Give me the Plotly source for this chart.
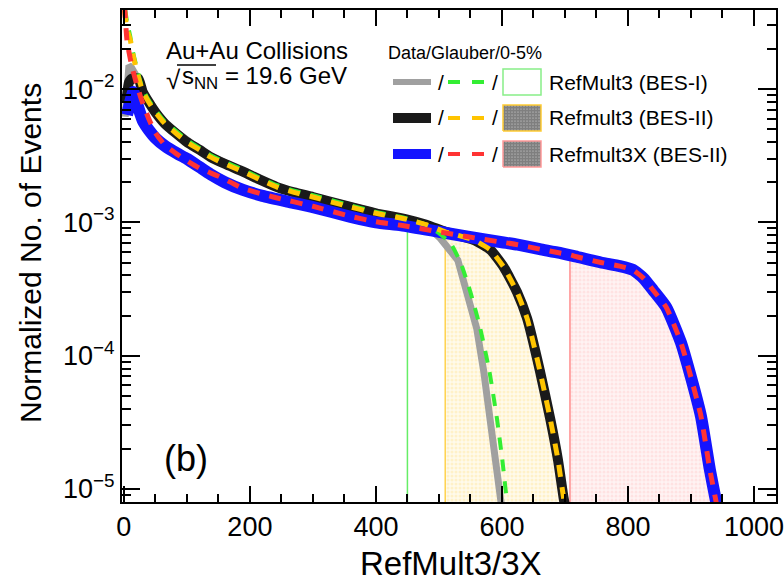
import numpy as np
import plotly.graph_objects as go

# ---------------- data ----------------
# Data: RefMult3 (BES-I)
d1_x = [2, 5, 8, 12, 20, 30, 40, 50, 65, 84, 100, 120, 137, 160, 189, 215, 243, 270, 300, 330,
        350, 380, 400, 430, 450, 480, 502, 515, 530, 544, 560, 571, 582, 592, 598, 602]
d1_y = [6.2e-3, 1.2e-2, 1.5e-2, 1.45e-2, 1.25e-2, 9.6e-3, 8.0e-3, 6.8e-3, 5.5e-3, 4.7e-3, 4.05e-3,
        3.55e-3, 3.15e-3, 2.8e-3, 2.42e-3, 2.12e-3, 1.86e-3, 1.7e-3, 1.56e-3, 1.45e-3, 1.36e-3,
        1.25e-3, 1.18e-3, 1.1e-3, 1.05e-3, 9.5e-4, 7.6e-4, 6.5e-4, 5.2e-4, 3.0e-4, 1.6e-4, 7.7e-5,
        3.3e-5, 1.3e-5, 8e-6, 6e-6]
# Data: Refmult3 (BES-II)
d2_x = [4, 8, 13, 23, 30, 40, 50, 65, 84, 100, 120, 137, 160, 189, 215, 243, 270, 300, 350, 400,
        450, 480, 510, 530, 555, 582, 603, 624, 640, 660, 677, 689, 698, 704]
d2_y = [8.0e-3, 1.12e-2, 1.2e-2, 1.2e-2, 9.5e-3, 7.9e-3, 6.7e-3, 5.5e-3, 4.6e-3, 4.0e-3, 3.5e-3,
        3.1e-3, 2.75e-3, 2.4e-3, 2.1e-3, 1.84e-3, 1.68e-3, 1.55e-3, 1.34e-3, 1.17e-3, 1.05e-3,
        9.6e-4, 8.5e-4, 8.0e-4, 7.4e-4, 6.2e-4, 4.6e-4, 3.0e-4, 1.9e-4, 7.8e-5, 3.3e-5, 1.65e-5,
        8.5e-6, 6e-6]
# Data: Refmult3X (BES-II)
d3_x = [5, 15, 20, 30, 40, 50, 65, 84, 100, 120, 137, 160, 189, 220, 263, 300, 360, 400, 440, 500,
        546, 600, 625, 660, 692, 720, 757, 787, 808, 825, 840, 861, 884, 900, 916, 930, 940, 945]
d3_y = [6.4e-3, 9.5e-3, 8.0e-3, 5.8e-3, 4.9e-3, 4.3e-3, 3.75e-3, 3.3e-3, 3.0e-3, 2.6e-3, 2.3e-3,
        2.0e-3, 1.75e-3, 1.58e-3, 1.42e-3, 1.3e-3, 1.1e-3, 1.0e-3, 9.5e-4, 8.5e-4, 7.8e-4, 7.1e-4,
        6.8e-4, 6.3e-4, 5.9e-4, 5.5e-4, 5.0e-4, 4.7e-4, 4.4e-4, 3.8e-4, 3.1e-4, 2.3e-4, 1.26e-4,
        6.9e-5, 3.5e-5, 1.4e-5, 8e-6, 6e-6]

# Glauber: RefMult3 (BES-I)
g1_x = [2, 5, 10, 15, 23, 30, 40, 50, 65, 84, 100, 120, 137, 160, 189, 215, 243, 270, 300, 350,
        400, 450, 480, 500, 519, 535, 550, 565, 580, 592, 601, 608, 612]
g1_y = [4.0e-2, 3.2e-2, 2.5e-2, 1.85e-2, 1.3e-2, 1.0e-2, 8.2e-3, 7.0e-3, 5.7e-3, 4.8e-3, 4.15e-3,
        3.62e-3, 3.2e-3, 2.85e-3, 2.48e-3, 2.17e-3, 1.9e-3, 1.73e-3, 1.6e-3, 1.38e-3, 1.2e-3,
        1.07e-3, 9.6e-4, 8.3e-4, 6.9e-4, 4.9e-4, 3.0e-4, 1.65e-4, 7.7e-5, 3.4e-5, 1.6e-5, 8e-6, 6e-6]
# Glauber: Refmult3 (BES-II)
g2_x = [1, 5, 10, 15, 23, 30, 40, 50, 65, 84, 100, 120, 137, 160, 189, 215, 243, 270, 300, 350,
        400, 450, 480, 510, 530, 555, 582, 603, 624, 640, 660, 677, 689, 698, 704]
g2_y = [3.9e-2, 2.8e-2, 2.35e-2, 1.75e-2, 1.23e-2, 9.6e-3, 7.9e-3, 6.7e-3, 5.5e-3, 4.6e-3, 4.0e-3,
        3.5e-3, 3.1e-3, 2.75e-3, 2.4e-3, 2.1e-3, 1.84e-3, 1.68e-3, 1.55e-3, 1.34e-3, 1.17e-3,
        1.05e-3, 9.6e-4, 8.5e-4, 8.0e-4, 7.4e-4, 6.2e-4, 4.6e-4, 3.0e-4, 1.9e-4, 7.8e-5, 3.3e-5,
        1.65e-5, 8.5e-6, 6e-6]
# Glauber: Refmult3X (BES-II)
g3_x = [1, 5, 10, 14, 20, 28, 40, 50, 65, 84, 100, 120, 152, 189, 237, 300, 360, 400, 440, 500,
        546, 600, 625, 660, 692, 708, 720, 757, 787, 808, 825, 840, 861, 884, 900, 916, 930, 940, 945]
g3_y = [4.2e-2, 2.3e-2, 1.7e-2, 1.4e-2, 1.1e-2, 8.3e-3, 5.9e-3, 4.7e-3, 3.8e-3, 3.25e-3, 2.9e-3,
        2.55e-3, 2.2e-3, 1.8e-3, 1.55e-3, 1.32e-3, 1.11e-3, 1.01e-3, 9.5e-4, 8.5e-4, 7.8e-4, 7.1e-4,
        6.8e-4, 6.3e-4, 5.9e-4, 5.7e-4, 5.5e-4, 5.0e-4, 4.7e-4, 4.4e-4, 3.8e-4, 3.1e-4, 2.3e-4,
        1.26e-4, 6.9e-5, 3.5e-5, 1.4e-5, 8e-6, 6e-6]

# 0-5% centrality cuts
cut_g1 = 450
cut_g2 = 510
cut_g3 = 708

legend_labels = ["RefMult3 (BES-I)", "Refmult3 (BES-II)", "Refmult3X (BES-II)"]

# ---------------- styling ----------------
FONT = "Liberation Sans, Arial, Helvetica, sans-serif"
FLOOR = 1e-6  # fill baseline below the visible range

C_GRAY = "#a0a0a0"
C_BLACK = "#1a1a1a"
C_BLUE = "#1414ff"
C_GREEN = "#33ee33"
C_YELLOW = "#ffc400"
C_RED = "#ff3333"

fig = go.Figure()


def cut_region(xs, ys, cut):
    xs = np.asarray(xs, float)
    ys = np.asarray(ys, float)
    m = xs >= cut
    px = np.concatenate([[cut], xs[m], [xs[m][-1], cut]])
    py = np.concatenate([[FLOOR], ys[m], [FLOOR, FLOOR]])
    return px, py, ys[m][0]


# filled 0-5% regions
for xs, ys, cut, fg, bg, edge, patterned in [
    (g1_x, g1_y, cut_g1, None, None, "#66ee66", False),
    (g2_x, g2_y, cut_g2, "rgba(255,205,60,0.40)", "rgba(255,240,190,0.30)", "#ffd24d", True),
    (g3_x, g3_y, cut_g3, "rgba(255,130,130,0.30)", "rgba(255,215,215,0.30)", "#ff8c8c", True),
]:
    px, py, ytop = cut_region(xs, ys, cut)
    if patterned:
        fig.add_trace(go.Scatter(
            x=px, y=py, mode="lines", line=dict(width=0),
            fill="toself", fillcolor=bg,
            fillpattern=dict(shape=".", fgcolor=fg, bgcolor=bg, size=4, solidity=0.45),
            hoverinfo="skip"))
    fig.add_trace(go.Scatter(x=[cut, cut], y=[FLOOR, ytop], mode="lines",
                             line=dict(color=edge, width=1.5), hoverinfo="skip"))

SPL = dict(shape="spline", smoothing=0.5)
# data curves
fig.add_trace(go.Scatter(x=d1_x, y=d1_y, mode="lines", line=dict(color=C_GRAY, width=7)))
fig.add_trace(go.Scatter(x=d2_x, y=d2_y, mode="lines", line=dict(color=C_BLACK, width=10, **SPL)))
fig.add_trace(go.Scatter(x=d3_x, y=d3_y, mode="lines", line=dict(color=C_BLUE, width=12, **SPL)))
# Glauber curves
DASH = "12px,10px"
fig.add_trace(go.Scatter(x=g1_x, y=g1_y, mode="lines",
                         line=dict(color=C_GREEN, width=4, dash=DASH, **SPL)))
fig.add_trace(go.Scatter(x=g2_x, y=g2_y, mode="lines",
                         line=dict(color=C_YELLOW, width=5, dash=DASH, **SPL)))
fig.add_trace(go.Scatter(x=g3_x, y=g3_y, mode="lines",
                         line=dict(color=C_RED, width=5, dash=DASH, **SPL)))

# ---------------- legend (drawn by hand) ----------------
def px2x(p):
    return (p - 122) / 654.0


def py2y(p):
    return (502 - p) / 492.0


shapes = []
annotations = []
rows = [82, 118, 154]
line_cols = [C_GRAY, C_BLACK, C_BLUE]
line_w = [6, 10, 10]
dash_cols = [C_GREEN, C_YELLOW, C_RED]
box_edges = ["#88ee88", "#ffcc33", "#ff9999"]

for i, r in enumerate(rows):
    shapes.append(dict(type="line", xref="paper", yref="paper", x0=px2x(393), x1=px2x(431),
                       y0=py2y(r), y1=py2y(r), line=dict(color=line_cols[i], width=line_w[i])))
    for a, b in [(448, 460), (472, 484)]:
        shapes.append(dict(type="line", xref="paper", yref="paper", x0=px2x(a), x1=px2x(b),
                           y0=py2y(r), y1=py2y(r), line=dict(color=dash_cols[i], width=4)))
    for sx in [441, 495]:
        annotations.append(dict(text="/", x=px2x(sx), y=py2y(r), xref="paper", yref="paper",
                                showarrow=False, xanchor="center", yanchor="middle",
                                font=dict(size=21, family=FONT, color="black")))
    annotations.append(dict(text=legend_labels[i], x=px2x(547), y=py2y(r), xref="paper",
                            yref="paper", showarrow=False, xanchor="left", yanchor="middle",
                            font=dict(size=21, family=FONT, color="black")))
    bx0, bx1 = px2x(503), px2x(541)
    by0, by1 = py2y(r + 13), py2y(r - 13)
    if i == 0:
        shapes.append(dict(type="rect", xref="paper", yref="paper", x0=bx0, x1=bx1, y0=by0, y1=by1,
                           line=dict(color=box_edges[i], width=1.5), fillcolor="white"))
    else:
        fig.add_trace(go.Scatter(
            x=[bx0, bx1, bx1, bx0, bx0], y=[by0, by0, by1, by1, by0], xaxis="x2", yaxis="y2",
            mode="lines", line=dict(color=box_edges[i], width=1.5), fill="toself",
            fillcolor="white",
            fillpattern=dict(shape=".", fgcolor="black", bgcolor="white", size=3, solidity=0.85),
            hoverinfo="skip"))

annotations.append(dict(text="Data/Glauber/0-5%", x=px2x(386), y=py2y(53), xref="paper",
                        yref="paper", showarrow=False, xanchor="left", yanchor="middle",
                        font=dict(size=18, family=FONT, color="black")))
annotations.append(dict(text="Au+Au Collisions", x=px2x(164), y=py2y(50), xref="paper",
                        yref="paper", showarrow=False, xanchor="left", yanchor="middle",
                        font=dict(size=24, family=FONT, color="black")))
annotations.append(dict(text="√", x=px2x(164), y=py2y(80), xref="paper", yref="paper",
                        showarrow=False, xanchor="left", yanchor="middle",
                        font=dict(size=26, family=FONT, color="black")))
annotations.append(dict(text="s<sub>NN</sub> = 19.6 GeV", x=px2x(180), y=py2y(78), xref="paper",
                        yref="paper", showarrow=False, xanchor="left", yanchor="middle",
                        font=dict(size=24, family=FONT, color="black")))
shapes.append(dict(type="line", xref="paper", yref="paper", x0=px2x(177), x1=px2x(216),
                   y0=py2y(65), y1=py2y(65), line=dict(color="black", width=1.5)))
annotations.append(dict(text="(b)", x=px2x(162), y=py2y(458), xref="paper", yref="paper",
                        showarrow=False, xanchor="left", yanchor="middle",
                        font=dict(size=36, family=FONT, color="black")))
# axis titles
annotations.append(dict(text="RefMult3/3X", x=px2x(451), y=py2y(563), xref="paper", yref="paper",
                        showarrow=False, xanchor="center", yanchor="middle",
                        font=dict(size=33, family=FONT, color="black")))
annotations.append(dict(text="Normalized No. of Events", x=px2x(30), y=py2y(253), xref="paper",
                        yref="paper", showarrow=False, xanchor="center", yanchor="middle",
                        textangle=-90, font=dict(size=30, family=FONT, color="black")))

# ---------------- axes ----------------
y_lo, y_hi = -5.0975, -1.407
major = [10.0 ** k for k in range(-5, -1)]
minor_vals = [m * 10.0 ** k for k in range(-6, -1) for m in range(2, 10)
              if y_lo <= np.log10(m * 10.0 ** k) <= y_hi]

fig.update_layout(
    width=784, height=582,
    margin=dict(l=122, r=8, t=10, b=80, autoexpand=False),
    plot_bgcolor="white", paper_bgcolor="white",
    showlegend=False,
    font=dict(family=FONT, color="black"),
    shapes=shapes, annotations=annotations,
    xaxis=dict(range=[-3, 1035], showline=True, linecolor="black", linewidth=2, automargin=False,
               mirror="allticks", ticks="inside", ticklen=16, tickwidth=2, tickcolor="black",
               tick0=0, dtick=200, tickfont=dict(size=27, family=FONT, color="black"),
               minor=dict(ticks="inside", ticklen=8, tickwidth=1.5, tickcolor="black",
                          tick0=0, dtick=50, showgrid=False),
               showgrid=False, zeroline=False),
    yaxis=dict(type="log", range=[y_lo, y_hi], showline=True, linecolor="black", linewidth=2,
               automargin=False,
               mirror="allticks", ticks="inside", ticklen=18, tickwidth=2, tickcolor="black",
               tickmode="array", tickvals=major,
               ticktext=["10<sup>−5</sup>", "10<sup>−4</sup>", "10<sup>−3</sup>", "10<sup>−2</sup>"],
               tickfont=dict(size=27, family=FONT, color="black"),
               minor=dict(ticks="inside", ticklen=9, tickwidth=1.5, tickcolor="black",
                          tickmode="array", tickvals=minor_vals, showgrid=False),
               showgrid=False, zeroline=False),
    xaxis2=dict(overlaying="x", range=[0, 1], visible=False, anchor="y2", automargin=False),
    yaxis2=dict(overlaying="y", range=[0, 1], visible=False, anchor="x2", automargin=False),
)

fig.write_html("out.html", config={"displayModeBar": False},
               post_script="document.body.style.margin='0';document.body.style.overflow='hidden';")
